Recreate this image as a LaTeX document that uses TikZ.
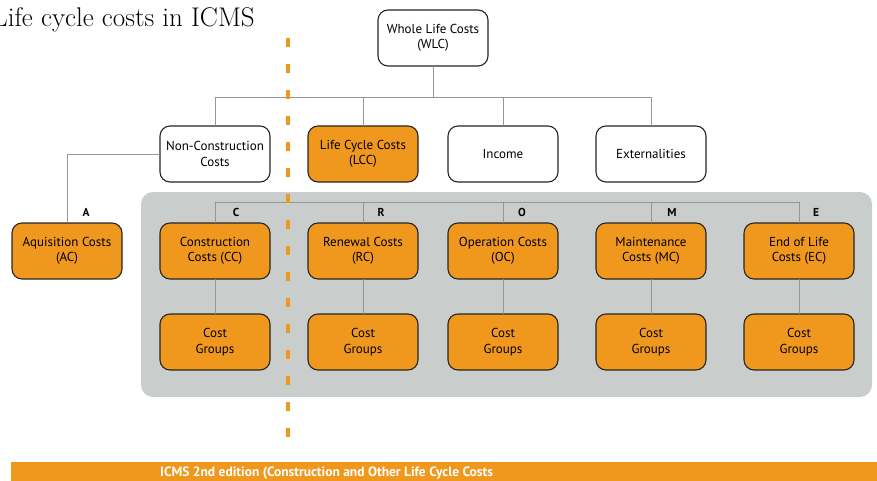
\documentclass[tikz,border=0pt]{standalone}
\usepackage{fontspec}
\newfontfamily\boxfont{PT Sans}
\definecolor{icmsorange}{RGB}{240,152,30}
\definecolor{panelgrey}{RGB}{201,206,205}
\definecolor{linkgrey}{RGB}{150,150,150}

\begin{document}
\begin{tikzpicture}[line cap=round, line join=round, x=1pt, y=-1pt,
    box/.style={draw=black!85, line width=1.1pt, rounded corners=10pt, fill=white,
      minimum width=110pt, minimum height=56pt, align=center, inner sep=1pt,
      font=\boxfont\fontsize{13}{15.5}\selectfont},
    costbox/.style={box, fill=icmsorange},
    link/.style={draw=linkgrey, line width=0.8pt},
    letter/.style={font=\boxfont\bfseries\fontsize{11.5}{13}\selectfont}]
                \useasboundingbox (0,0) rectangle (877,481);
                \clip (0,0) rectangle (877,481);
                \node[anchor=base west, inner sep=0pt, font=\fontsize{27}{32}\selectfont] (title) at (-8,27) {Life cycle costs in ICMS};
                \fill[panelgrey, rounded corners=12pt] (141,192) rectangle (872,397);
                \coordinate (topbus) at (433,97);
                \coordinate (lowbus) at (0,202);
                % top levels
                \node[box] (wlc) at (433,38) {Whole Life Costs\\(WLC)};
                \node[box] (nc) at (215,154) {Non-Construction\\Costs};
                \node[costbox] (lcc) at (363,154) {Life Cycle Costs\\(LCC)};
                \node[box] (inc) at (503,154) {Income};
                \node[box] (ext) at (651,154) {Externalities};
                \node[costbox] (ac) at (67,251) {Aquisition Costs\\(AC)};
                % cost types and their groups
                \foreach \name/\xpos/\txt in {cc/215/{Construction\\Costs (CC)}, rc/363/{Renewal Costs\\(RC)},
                    oc/503/{Operation Costs\\(OC)}, mc/651/{Maintenance\\Costs (MC)}, ec/799/{End of Life\\Costs (EC)}}
                {
                    \node[costbox] (\name) at (\xpos,251) {\txt};
                    \node[costbox] (\name g) at (\xpos,342) {Cost\\Groups};
                    \draw[link] (\name) -- (\name g);
                    \draw[link] (\name.north) -- (\name.north |- lowbus);
                }
                \draw[link] (cc.north |- lowbus) -- (ec.north |- lowbus);
                \foreach \child in {nc, lcc, inc, ext}
                    \draw[link] (wlc.south) -- (topbus) -| (\child.north);
                \draw[link] (nc.west) -| (ac.north);
                \foreach \point/\xpos in {A/86, C/236, R/381, O/522, M/672, E/816}
                    \node[letter] (letter\point) at (\xpos,212) {\point};
                % divider and footer
                \draw[icmsorange, line width=4pt, line cap=butt, dash pattern=on 9pt off 17pt] (288,38) -- (288,437);
                \fill[icmsorange] (11,462) rectangle (880,485);
                \node[anchor=west, text=white, inner sep=0pt, font=\boxfont\bfseries\fontsize{13.5}{15}\selectfont] (footer) at (160,473) {ICMS 2nd edition (Construction and Other Life Cycle Costs};
            \end{tikzpicture}
\end{document}
